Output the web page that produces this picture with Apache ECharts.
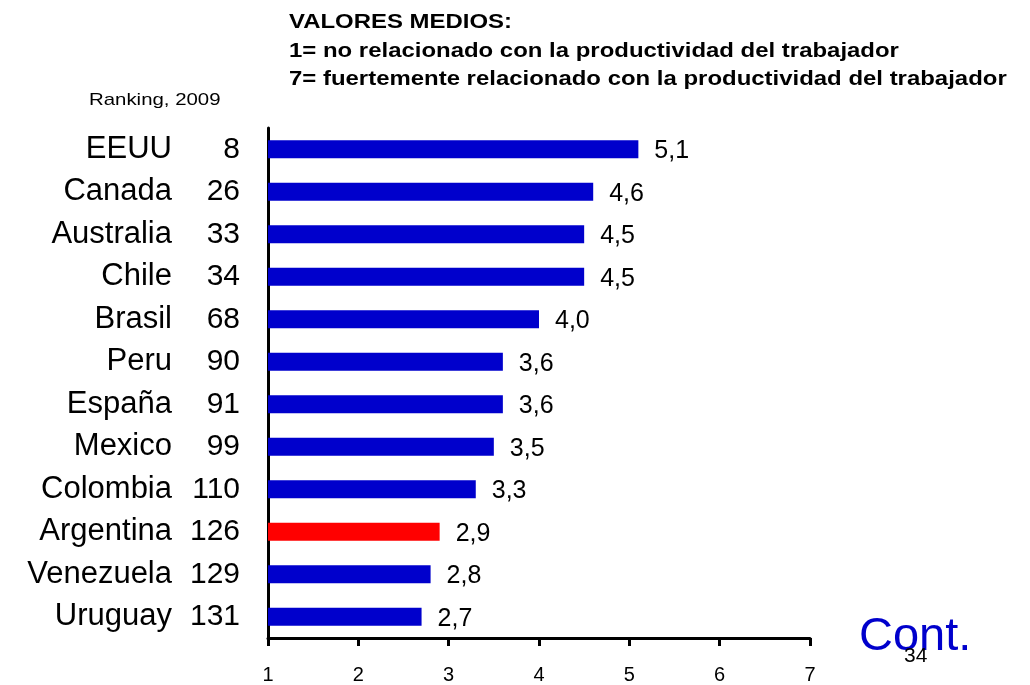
<!DOCTYPE html>
<html lang="es">
<head>
    <meta charset="UTF-8">
    <title>Ranking 2009</title>
    <script src="https://cdn.jsdelivr.net/npm/echarts@6.0.0/dist/echarts.min.js"></script>
    <style>
        body { margin: 0; background: #fff; }
    </style>
</head>
<body>
    <div id="main" style="width: 1030px;height:685px;"></div>
    <script type="text/javascript">
        // data
        const countries = ['EEUU', 'Canada', 'Australia', 'Chile', 'Brasil', 'Peru', 'España', 'Mexico', 'Colombia', 'Argentina', 'Venezuela', 'Uruguay'];
        const ranks = [8, 26, 33, 34, 68, 90, 91, 99, 110, 126, 129, 131];
        const values = [5.1, 4.6, 4.5, 4.5, 4.0, 3.6, 3.6, 3.5, 3.3, 2.9, 2.8, 2.7];
        const xTicks = [1, 2, 3, 4, 5, 6, 7];
        const highlight = 'Argentina';

        const FONT = '"Liberation Sans", Arial, sans-serif';

        let myChart = echarts.init(document.getElementById('main'));

        let options = {
            backgroundColor: '#fff',
            animation: false,
            grid: { left: 268, right: 220, top: 128, bottom: 47 },
            xAxis: {
                type: 'value',
                min: xTicks[0],
                max: xTicks[xTicks.length - 1],
                interval: 1,
                axisLine: { show: true, lineStyle: { color: '#000', width: 3 } },
                axisTick: { show: true, length: 8, lineStyle: { color: '#000', width: 3 } },
                splitLine: { show: false },
                axisLabel: { color: '#000', fontSize: 20, margin: 27, fontFamily: FONT }
            },
            yAxis: {
                type: 'category',
                inverse: true,
                data: countries,
                axisLine: { show: true, lineStyle: { color: '#000', width: 3 } },
                axisTick: { show: false },
                axisLabel: {
                    margin: 28,
                    formatter: (name, i) => '{n|' + name + '}{r|' + ranks[i] + '}',
                    rich: {
                        n: { width: 172, align: 'right', fontSize: 31, color: '#000', fontFamily: FONT },
                        r: { width: 68, align: 'right', fontSize: 30, color: '#000', fontFamily: FONT }
                    }
                }
            },
            series: [{
                type: 'bar',
                barWidth: 18,
                data: values.map((v, i) => ({
                    value: v,
                    itemStyle: { color: countries[i] === highlight ? '#ff0000' : '#0000cc' }
                })),
                label: {
                    show: true,
                    position: 'right',
                    distance: 16,
                    offset: [0, 2],
                    color: '#000',
                    fontSize: 25,
                    fontFamily: FONT,
                    formatter: p => p.value.toFixed(1).replace('.', ',')
                }
            }],
            graphic: [
                {
                    type: 'text', x: 289, y: 8, scaleX: 1.14,
                    style: {
                        text: 'VALORES MEDIOS:\n1= no relacionado con la productividad del trabajador\n7= fuertemente relacionado con la productividad del trabajador',
                        font: 'bold 21px ' + FONT,
                        lineHeight: 28.5, fill: '#000'
                    }
                },
                {
                    type: 'text', x: 89, y: 100, scaleX: 1.2,
                    style: { text: 'Ranking, 2009', font: '17px ' + FONT, fill: '#000', verticalAlign: 'middle' }
                },
                {
                    type: 'text', x: 859, y: 637,
                    style: { text: 'Cont.', font: '47px ' + FONT, fill: '#0000cc', verticalAlign: 'middle' }
                },
                {
                    type: 'text', x: 904, y: 656,
                    style: { text: '34', font: '21px ' + FONT, fill: '#000', verticalAlign: 'middle' }
                }
            ]
        };

        myChart.setOption(options);
    </script>
</body>
</html>
